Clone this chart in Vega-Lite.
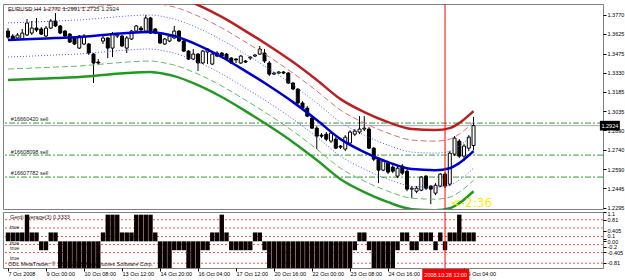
{
  "$schema": "https://vega.github.io/schema/vega-lite/v6.json",
  "background": "#ffffff",
  "padding": {"left": 2, "top": 3, "right": 0, "bottom": 0},
  "bounds": "flush",
  "spacing": 3,
  "config": {
    "view": {"stroke": "#808080", "strokeWidth": 1},
    "axis": {"labelFont": "Liberation Sans", "labelFontSize": 5.5, "labelColor": "#000000", "tickColor": "#000000", "domain": false, "grid": false, "title": null, "tickSize": 3, "labelPadding": 1}
  },
  "datasets": {
    "cd": [
      {"i":0,"o":1.3647,"h":1.3670,"l":1.3586,"c":1.3601},
      {"i":1,"o":1.3609,"h":1.3624,"l":1.3571,"c":1.3586},
      {"i":2,"o":1.3594,"h":1.3632,"l":1.3579,"c":1.3617},
      {"i":3,"o":1.3586,"h":1.3663,"l":1.3579,"c":1.3632},
      {"i":4,"o":1.3617,"h":1.3739,"l":1.3609,"c":1.3709},
      {"i":5,"o":1.3632,"h":1.3724,"l":1.3617,"c":1.3670},
      {"i":6,"o":1.3670,"h":1.3747,"l":1.3640,"c":1.3655},
      {"i":7,"o":1.3663,"h":1.3678,"l":1.3617,"c":1.3624},
      {"i":8,"o":1.3609,"h":1.3686,"l":1.3601,"c":1.3670},
      {"i":9,"o":1.3670,"h":1.3739,"l":1.3663,"c":1.3724},
      {"i":10,"o":1.3724,"h":1.3785,"l":1.3678,"c":1.3686},
      {"i":11,"o":1.3686,"h":1.3693,"l":1.3624,"c":1.3632},
      {"i":12,"o":1.3647,"h":1.3655,"l":1.3601,"c":1.3609},
      {"i":13,"o":1.3624,"h":1.3632,"l":1.3556,"c":1.3563},
      {"i":14,"o":1.3594,"h":1.3601,"l":1.3540,"c":1.3548},
      {"i":15,"o":1.3517,"h":1.3617,"l":1.3510,"c":1.3609},
      {"i":16,"o":1.3548,"h":1.3624,"l":1.3540,"c":1.3609},
      {"i":17,"o":1.3548,"h":1.3556,"l":1.3464,"c":1.3479},
      {"i":18,"o":1.3471,"h":1.3479,"l":1.3250,"c":1.3403},
      {"i":19,"o":1.3410,"h":1.3433,"l":1.3387,"c":1.3403},
      {"i":20,"o":1.3571,"h":1.3617,"l":1.3548,"c":1.3594},
      {"i":21,"o":1.3594,"h":1.3601,"l":1.3441,"c":1.3517},
      {"i":22,"o":1.3517,"h":1.3640,"l":1.3448,"c":1.3624},
      {"i":23,"o":1.3609,"h":1.3624,"l":1.3594,"c":1.3617},
      {"i":24,"o":1.3609,"h":1.3617,"l":1.3525,"c":1.3533},
      {"i":25,"o":1.3517,"h":1.3609,"l":1.3479,"c":1.3594},
      {"i":26,"o":1.3586,"h":1.3655,"l":1.3579,"c":1.3647},
      {"i":27,"o":1.3647,"h":1.3693,"l":1.3640,"c":1.3686},
      {"i":28,"o":1.3670,"h":1.3686,"l":1.3640,"c":1.3655},
      {"i":29,"o":1.3647,"h":1.3770,"l":1.3640,"c":1.3747},
      {"i":30,"o":1.3747,"h":1.3755,"l":1.3624,"c":1.3632},
      {"i":31,"o":1.3663,"h":1.3670,"l":1.3624,"c":1.3632},
      {"i":32,"o":1.3632,"h":1.3640,"l":1.3548,"c":1.3556},
      {"i":33,"o":1.3548,"h":1.3594,"l":1.3540,"c":1.3586},
      {"i":34,"o":1.3571,"h":1.3624,"l":1.3563,"c":1.3609},
      {"i":35,"o":1.3594,"h":1.3686,"l":1.3586,"c":1.3647},
      {"i":36,"o":1.3647,"h":1.3655,"l":1.3563,"c":1.3571},
      {"i":37,"o":1.3571,"h":1.3579,"l":1.3487,"c":1.3494},
      {"i":38,"o":1.3494,"h":1.3502,"l":1.3426,"c":1.3433},
      {"i":39,"o":1.3433,"h":1.3510,"l":1.3426,"c":1.3471},
      {"i":40,"o":1.3471,"h":1.3479,"l":1.3341,"c":1.3403},
      {"i":41,"o":1.3403,"h":1.3502,"l":1.3395,"c":1.3494},
      {"i":42,"o":1.3487,"h":1.3517,"l":1.3395,"c":1.3510},
      {"i":43,"o":1.3395,"h":1.3479,"l":1.3387,"c":1.3471},
      {"i":44,"o":1.3479,"h":1.3494,"l":1.3448,"c":1.3456},
      {"i":45,"o":1.3479,"h":1.3487,"l":1.3441,"c":1.3456},
      {"i":46,"o":1.3471,"h":1.3479,"l":1.3426,"c":1.3433},
      {"i":47,"o":1.3441,"h":1.3448,"l":1.3395,"c":1.3403},
      {"i":48,"o":1.3433,"h":1.3441,"l":1.3403,"c":1.3426},
      {"i":49,"o":1.3403,"h":1.3464,"l":1.3395,"c":1.3456},
      {"i":50,"o":1.3418,"h":1.3426,"l":1.3403,"c":1.3410},
      {"i":51,"o":1.3441,"h":1.3456,"l":1.3426,"c":1.3448},
      {"i":52,"o":1.3456,"h":1.3471,"l":1.3448,"c":1.3464},
      {"i":53,"o":1.3471,"h":1.3533,"l":1.3464,"c":1.3510},
      {"i":54,"o":1.3479,"h":1.3510,"l":1.3403,"c":1.3418},
      {"i":55,"o":1.3403,"h":1.3418,"l":1.3303,"c":1.3318},
      {"i":56,"o":1.3318,"h":1.3334,"l":1.3311,"c":1.3326},
      {"i":57,"o":1.3326,"h":1.3341,"l":1.3318,"c":1.3334},
      {"i":58,"o":1.3334,"h":1.3341,"l":1.3318,"c":1.3326},
      {"i":59,"o":1.3326,"h":1.3334,"l":1.3242,"c":1.3250},
      {"i":60,"o":1.3250,"h":1.3257,"l":1.3196,"c":1.3204},
      {"i":61,"o":1.3204,"h":1.3211,"l":1.3089,"c":1.3097},
      {"i":62,"o":1.3097,"h":1.3112,"l":1.3051,"c":1.3058},
      {"i":63,"o":1.3058,"h":1.3074,"l":1.2989,"c":1.2997},
      {"i":64,"o":1.2982,"h":1.2997,"l":1.2898,"c":1.2905},
      {"i":65,"o":1.2905,"h":1.2920,"l":1.2745,"c":1.2844},
      {"i":66,"o":1.2852,"h":1.2867,"l":1.2829,"c":1.2844},
      {"i":67,"o":1.2859,"h":1.2875,"l":1.2806,"c":1.2821},
      {"i":68,"o":1.2806,"h":1.2882,"l":1.2791,"c":1.2867},
      {"i":69,"o":1.2821,"h":1.2836,"l":1.2745,"c":1.2752},
      {"i":70,"o":1.2768,"h":1.2775,"l":1.2745,"c":1.2760},
      {"i":71,"o":1.2745,"h":1.2852,"l":1.2729,"c":1.2836},
      {"i":72,"o":1.2791,"h":1.2890,"l":1.2783,"c":1.2875},
      {"i":73,"o":1.2859,"h":1.2898,"l":1.2844,"c":1.2882},
      {"i":74,"o":1.2875,"h":1.2997,"l":1.2859,"c":1.2898},
      {"i":75,"o":1.2898,"h":1.2997,"l":1.2882,"c":1.2905},
      {"i":76,"o":1.2898,"h":1.2913,"l":1.2745,"c":1.2752},
      {"i":77,"o":1.2752,"h":1.2760,"l":1.2653,"c":1.2668},
      {"i":78,"o":1.2668,"h":1.2676,"l":1.2485,"c":1.2584},
      {"i":79,"o":1.2584,"h":1.2668,"l":1.2576,"c":1.2653},
      {"i":80,"o":1.2638,"h":1.2653,"l":1.2554,"c":1.2569},
      {"i":81,"o":1.2607,"h":1.2622,"l":1.2561,"c":1.2576},
      {"i":82,"o":1.2538,"h":1.2615,"l":1.2523,"c":1.2599},
      {"i":83,"o":1.2615,"h":1.2630,"l":1.2546,"c":1.2561},
      {"i":84,"o":1.2576,"h":1.2592,"l":1.2423,"c":1.2439},
      {"i":85,"o":1.2439,"h":1.2462,"l":1.2370,"c":1.2446},
      {"i":86,"o":1.2423,"h":1.2462,"l":1.2408,"c":1.2446},
      {"i":87,"o":1.2431,"h":1.2538,"l":1.2423,"c":1.2531},
      {"i":88,"o":1.2538,"h":1.2546,"l":1.2431,"c":1.2446},
      {"i":89,"o":1.2462,"h":1.2469,"l":1.2324,"c":1.2439},
      {"i":90,"o":1.2408,"h":1.2485,"l":1.2393,"c":1.2469},
      {"i":91,"o":1.2462,"h":1.2561,"l":1.2454,"c":1.2554},
      {"i":92,"o":1.2554,"h":1.2569,"l":1.2446,"c":1.2462},
      {"i":93,"o":1.2477,"h":1.2729,"l":1.2462,"c":1.2714},
      {"i":94,"o":1.2706,"h":1.2844,"l":1.2691,"c":1.2829},
      {"i":95,"o":1.2806,"h":1.2821,"l":1.2676,"c":1.2691},
      {"i":96,"o":1.2691,"h":1.2783,"l":1.2653,"c":1.2768},
      {"i":97,"o":1.2752,"h":1.2852,"l":1.2729,"c":1.2836},
      {"i":98,"o":1.2772,"h":1.2991,"l":1.2735,"c":1.2924}
    ],
    "bands": [
      {"i":0,"c":1.3579,"u1":1.3709,"l1":1.3449,"u2":1.3801,"l2":1.3357,"u3":1.3885,"l3":1.3273},
      {"i":5,"c":1.3586,"u1":1.3716,"l1":1.3456,"u2":1.3808,"l2":1.3364,"u3":1.3892,"l3":1.3280},
      {"i":10,"c":1.3594,"u1":1.3724,"l1":1.3464,"u2":1.3816,"l2":1.3372,"u3":1.3900,"l3":1.3288},
      {"i":15,"c":1.3602,"u1":1.3732,"l1":1.3472,"u2":1.3824,"l2":1.3380,"u3":1.3908,"l3":1.3296},
      {"i":20,"c":1.3617,"u1":1.3747,"l1":1.3487,"u2":1.3839,"l2":1.3395,"u3":1.3923,"l3":1.3311},
      {"i":25,"c":1.3632,"u1":1.3762,"l1":1.3502,"u2":1.3854,"l2":1.3410,"u3":1.3938,"l3":1.3326},
      {"i":30,"c":1.3640,"u1":1.3770,"l1":1.3510,"u2":1.3862,"l2":1.3418,"u3":1.3946,"l3":1.3334},
      {"i":33,"c":1.3625,"u1":1.3755,"l1":1.3495,"u2":1.3847,"l2":1.3403,"u3":1.3931,"l3":1.3319},
      {"i":35,"c":1.3609,"u1":1.3739,"l1":1.3479,"u2":1.3831,"l2":1.3387,"u3":1.3915,"l3":1.3303},
      {"i":40,"c":1.3540,"u1":1.3670,"l1":1.3410,"u2":1.3762,"l2":1.3318,"u3":1.3846,"l3":1.3234},
      {"i":45,"c":1.3449,"u1":1.3579,"l1":1.3319,"u2":1.3671,"l2":1.3227,"u3":1.3755,"l3":1.3143},
      {"i":50,"c":1.3341,"u1":1.3471,"l1":1.3211,"u2":1.3563,"l2":1.3119,"u3":1.3647,"l3":1.3035},
      {"i":55,"c":1.3227,"u1":1.3357,"l1":1.3097,"u2":1.3449,"l2":1.3005,"u3":1.3533,"l3":1.2921},
      {"i":60,"c":1.3104,"u1":1.3234,"l1":1.2974,"u2":1.3326,"l2":1.2882,"u3":1.3410,"l3":1.2798},
      {"i":65,"c":1.2967,"u1":1.3097,"l1":1.2837,"u2":1.3189,"l2":1.2745,"u3":1.3273,"l3":1.2661},
      {"i":70,"c":1.2821,"u1":1.2951,"l1":1.2691,"u2":1.3043,"l2":1.2599,"u3":1.3127,"l3":1.2515},
      {"i":75,"c":1.2722,"u1":1.2852,"l1":1.2592,"u2":1.2944,"l2":1.2500,"u3":1.3028,"l3":1.2416},
      {"i":80,"c":1.2645,"u1":1.2775,"l1":1.2515,"u2":1.2867,"l2":1.2423,"u3":1.2951,"l3":1.2339},
      {"i":85,"c":1.2592,"u1":1.2722,"l1":1.2462,"u2":1.2814,"l2":1.2370,"u3":1.2898,"l3":1.2286},
      {"i":90,"c":1.2584,"u1":1.2714,"l1":1.2454,"u2":1.2806,"l2":1.2362,"u3":1.2890,"l3":1.2278},
      {"i":93,"c":1.2599,"u1":1.2729,"l1":1.2469,"u2":1.2821,"l2":1.2377,"u3":1.2905,"l3":1.2293},
      {"i":95,"c":1.2638,"u1":1.2768,"l1":1.2508,"u2":1.2860,"l2":1.2416,"u3":1.2944,"l3":1.2332},
      {"i":98,"c":1.2729,"u1":1.2859,"l1":1.2599,"u2":1.2951,"l2":1.2507,"u3":1.3035,"l3":1.2423}
    ],
    "ind": [
      {"i":0,"v":0.3333},{"i":1,"v":0.3333},{"i":2,"v":0.3333},{"i":3,"v":0.3333},{"i":4,"v":1},{"i":5,"v":0.3333},{"i":6,"v":0.3333},
      {"i":7,"v":-0.3333},{"i":8,"v":-0.3333},{"i":9,"v":0.3333},{"i":10,"v":0.3333},
      {"i":11,"v":-1},{"i":12,"v":-1},{"i":13,"v":-1},{"i":14,"v":-1},{"i":15,"v":-1},{"i":16,"v":-1},{"i":17,"v":-1},{"i":18,"v":-1},{"i":19,"v":-1},
      {"i":20,"v":0.3333},{"i":21,"v":1},{"i":22,"v":1},{"i":23,"v":1},{"i":24,"v":0.3333},{"i":25,"v":0.3333},{"i":26,"v":0.3333},
      {"i":27,"v":1},{"i":28,"v":1},{"i":29,"v":1},{"i":30,"v":1},{"i":31,"v":0.3333},
      {"i":32,"v":-1},{"i":33,"v":-1},{"i":34,"v":-1},{"i":35,"v":-0.3333},{"i":36,"v":-0.3333},{"i":37,"v":-0.3333},
      {"i":38,"v":-1},{"i":39,"v":-1},{"i":40,"v":-1},{"i":41,"v":-0.3333},{"i":42,"v":-0.3333},
      {"i":43,"v":0.3333},{"i":44,"v":0.3333},{"i":45,"v":1},{"i":46,"v":0.3333},
      {"i":47,"v":-0.3333},{"i":48,"v":-0.3333},{"i":49,"v":-0.3333},{"i":50,"v":-0.3333},{"i":51,"v":-0.3333},
      {"i":52,"v":0.3333},{"i":53,"v":0.3333},{"i":54,"v":-0.3333},
      {"i":55,"v":-1},{"i":56,"v":-1},{"i":57,"v":-1},{"i":58,"v":-1},{"i":59,"v":-1},{"i":60,"v":-1},{"i":61,"v":-1},{"i":62,"v":-1},{"i":63,"v":-1},
      {"i":64,"v":-1},{"i":65,"v":-1},{"i":66,"v":-1},{"i":67,"v":-1},{"i":68,"v":-1},{"i":69,"v":-1},{"i":70,"v":-1},{"i":71,"v":-1},{"i":72,"v":-1},
      {"i":73,"v":-0.3333},{"i":74,"v":0.3333},{"i":75,"v":0.3333},{"i":76,"v":-0.3333},
      {"i":77,"v":-1},{"i":78,"v":-1},{"i":79,"v":-1},{"i":80,"v":-1},{"i":81,"v":-1},{"i":82,"v":-0.3333},
      {"i":83,"v":0.3333},{"i":84,"v":0.3333},{"i":85,"v":-0.3333},{"i":86,"v":-0.3333},
      {"i":87,"v":0.3333},{"i":88,"v":0.3333},{"i":89,"v":0.3333},{"i":90,"v":-0.3333},{"i":91,"v":0.3333},{"i":92,"v":-0.3333},
      {"i":93,"v":0.3333},{"i":94,"v":0.3333},{"i":95,"v":1},{"i":96,"v":0.3333},{"i":97,"v":0.3333},{"i":98,"v":0.3333}
    ]
  },
  "vconcat": [
    {
      "width": 600,
      "height": 205,
      "layer": [
        {
          "data": {"values": [{"p": 1.2924}]},
          "mark": {"type": "rule", "color": "#A4ACBA", "strokeWidth": 1},
          "encoding": {
            "y": {"field": "p", "type": "quantitative", "scale": {"domain": [1.2287, 1.3854], "nice": false, "zero": false},
              "axis": {"orient": "right", "values": [1.3770, 1.3625, 1.3475, 1.3330, 1.3185, 1.3035, 1.2890, 1.2740, 1.2590, 1.2445, 1.2295], "format": ".4f", "labelOverlap": false, "labelBound": false}}
          }
        },
        {
          "data": {"values": [{"p": 1.2944}, {"p": 1.2699}, {"p": 1.2531}]},
          "mark": {"type": "rule", "color": "#3A9A3A", "strokeWidth": 1, "strokeDash": [6, 2, 2, 2]},
          "encoding": {"y": {"field": "p", "type": "quantitative",
              "axis": {"orient": "right", "values": [1.3770, 1.3625, 1.3475, 1.3330, 1.3185, 1.3035, 1.2890, 1.2740, 1.2590, 1.2445, 1.2295], "format": ".4f", "labelOverlap": false, "labelBound": false}}}
        },
        {
          "data": {"values": [{"i": 0.6, "p": 1.2974, "t": "#16660420 sell"}, {"i": 0.6, "p": 1.2722, "t": "#16608098 sell"}, {"i": 0.6, "p": 1.2561, "t": "#16607782 sell"}]},
          "mark": {"type": "text", "align": "left", "baseline": "middle", "font": "Liberation Sans", "fontSize": 5.5, "color": "#222222"},
          "encoding": {
            "x": {"field": "i", "type": "quantitative", "scale": {"domain": [0, 124.2], "nice": false, "zero": false}, "axis": null},
            "y": {"field": "p", "type": "quantitative",
              "axis": {"orient": "right", "values": [1.3770, 1.3625, 1.3475, 1.3330, 1.3185, 1.3035, 1.2890, 1.2740, 1.2590, 1.2445, 1.2295], "format": ".4f", "labelOverlap": false, "labelBound": false}},
            "text": {"field": "t"}
          }
        },
        {
          "data": {"name": "cd"},
          "mark": {"type": "rule", "color": "#000000", "strokeWidth": 1, "clip": true},
          "encoding": {
            "x": {"field": "i", "type": "quantitative", "axis": null},
            "y": {"field": "l", "type": "quantitative",
              "axis": {"orient": "right", "values": [1.3770, 1.3625, 1.3475, 1.3330, 1.3185, 1.3035, 1.2890, 1.2740, 1.2590, 1.2445, 1.2295], "format": ".4f", "labelOverlap": false, "labelBound": false}},
            "y2": {"field": "h"}
          }
        },
        {
          "data": {"name": "cd"},
          "mark": {"type": "bar", "size": 3, "stroke": "#000000", "strokeWidth": 1, "clip": true},
          "encoding": {
            "x": {"field": "i", "type": "quantitative", "axis": null},
            "y": {"field": "o", "type": "quantitative",
              "axis": {"orient": "right", "values": [1.3770, 1.3625, 1.3475, 1.3330, 1.3185, 1.3035, 1.2890, 1.2740, 1.2590, 1.2445, 1.2295], "format": ".4f", "labelOverlap": false, "labelBound": false}},
            "y2": {"field": "c"},
            "fill": {"condition": {"test": "datum.c >= datum.o", "value": "#ffffff"}, "value": "#000000"}
          }
        },
        {
          "data": {"name": "bands"},
          "mark": {"type": "line", "color": "#5555FF", "strokeWidth": 1, "strokeDash": [1, 2], "interpolate": "monotone", "clip": true},
          "encoding": {"x": {"field": "i", "type": "quantitative", "axis": null}, "y": {"field": "u1", "type": "quantitative",
              "axis": {"orient": "right", "values": [1.3770, 1.3625, 1.3475, 1.3330, 1.3185, 1.3035, 1.2890, 1.2740, 1.2590, 1.2445, 1.2295], "format": ".4f", "labelOverlap": false, "labelBound": false}}}
        },
        {
          "data": {"name": "bands"},
          "mark": {"type": "line", "color": "#5555FF", "strokeWidth": 1, "strokeDash": [1, 2], "interpolate": "monotone", "clip": true},
          "encoding": {"x": {"field": "i", "type": "quantitative", "axis": null}, "y": {"field": "l1", "type": "quantitative",
              "axis": {"orient": "right", "values": [1.3770, 1.3625, 1.3475, 1.3330, 1.3185, 1.3035, 1.2890, 1.2740, 1.2590, 1.2445, 1.2295], "format": ".4f", "labelOverlap": false, "labelBound": false}}}
        },
        {
          "data": {"name": "bands"},
          "mark": {"type": "line", "color": "#E07070", "strokeWidth": 1, "strokeDash": [6, 3], "interpolate": "monotone", "clip": true},
          "encoding": {"x": {"field": "i", "type": "quantitative", "axis": null}, "y": {"field": "u2", "type": "quantitative",
              "axis": {"orient": "right", "values": [1.3770, 1.3625, 1.3475, 1.3330, 1.3185, 1.3035, 1.2890, 1.2740, 1.2590, 1.2445, 1.2295], "format": ".4f", "labelOverlap": false, "labelBound": false}}}
        },
        {
          "data": {"name": "bands"},
          "mark": {"type": "line", "color": "#66BB66", "strokeWidth": 1, "strokeDash": [6, 3], "interpolate": "monotone", "clip": true},
          "encoding": {"x": {"field": "i", "type": "quantitative", "axis": null}, "y": {"field": "l2", "type": "quantitative",
              "axis": {"orient": "right", "values": [1.3770, 1.3625, 1.3475, 1.3330, 1.3185, 1.3035, 1.2890, 1.2740, 1.2590, 1.2445, 1.2295], "format": ".4f", "labelOverlap": false, "labelBound": false}}}
        },
        {
          "data": {"name": "bands"},
          "mark": {"type": "line", "color": "#BB2020", "strokeWidth": 2.5, "interpolate": "monotone", "clip": true},
          "encoding": {"x": {"field": "i", "type": "quantitative", "axis": null}, "y": {"field": "u3", "type": "quantitative",
              "axis": {"orient": "right", "values": [1.3770, 1.3625, 1.3475, 1.3330, 1.3185, 1.3035, 1.2890, 1.2740, 1.2590, 1.2445, 1.2295], "format": ".4f", "labelOverlap": false, "labelBound": false}}}
        },
        {
          "data": {"name": "bands"},
          "mark": {"type": "line", "color": "#229A22", "strokeWidth": 2.5, "interpolate": "monotone", "clip": true},
          "encoding": {"x": {"field": "i", "type": "quantitative", "axis": null}, "y": {"field": "l3", "type": "quantitative",
              "axis": {"orient": "right", "values": [1.3770, 1.3625, 1.3475, 1.3330, 1.3185, 1.3035, 1.2890, 1.2740, 1.2590, 1.2445, 1.2295], "format": ".4f", "labelOverlap": false, "labelBound": false}}}
        },
        {
          "data": {"name": "bands"},
          "mark": {"type": "line", "color": "#0000CC", "strokeWidth": 2.5, "interpolate": "monotone", "clip": true},
          "encoding": {"x": {"field": "i", "type": "quantitative", "axis": null}, "y": {"field": "c", "type": "quantitative",
              "axis": {"orient": "right", "values": [1.3770, 1.3625, 1.3475, 1.3330, 1.3185, 1.3035, 1.2890, 1.2740, 1.2590, 1.2445, 1.2295], "format": ".4f", "labelOverlap": false, "labelBound": false}}}
        },
        {
          "data": {"values": [{"i": 92}]},
          "mark": {"type": "rule", "color": "#FF0000", "strokeWidth": 1},
          "encoding": {"x": {"field": "i", "type": "quantitative", "axis": null}}
        },
        {
          "data": {"values": [{"i": 0, "p": 1.3818, "t": "EURUSD,H4  1.2772 1.2991 1.2735 1.2924"}]},
          "mark": {"type": "text", "align": "left", "baseline": "middle", "font": "Liberation Sans", "fontSize": 5.8, "color": "#222222"},
          "encoding": {"x": {"field": "i", "type": "quantitative", "axis": null}, "y": {"field": "p", "type": "quantitative",
              "axis": {"orient": "right", "values": [1.3770, 1.3625, 1.3475, 1.3330, 1.3185, 1.3035, 1.2890, 1.2740, 1.2590, 1.2445, 1.2295], "format": ".4f", "labelOverlap": false, "labelBound": false}}, "text": {"field": "t"}}
        },
        {
          "data": {"values": [{"i": 93.2, "p": 1.2332, "t": "<-2:36"}]},
          "mark": {"type": "text", "align": "left", "baseline": "middle", "font": "DejaVu Sans", "fontSize": 12, "color": "#F2F000"},
          "encoding": {"x": {"field": "i", "type": "quantitative", "axis": null}, "y": {"field": "p", "type": "quantitative",
              "axis": {"orient": "right", "values": [1.3770, 1.3625, 1.3475, 1.3330, 1.3185, 1.3035, 1.2890, 1.2740, 1.2590, 1.2445, 1.2295], "format": ".4f", "labelOverlap": false, "labelBound": false}}, "text": {"field": "t"}}
        },
        {
          "data": {"values": [{"a": 124.6, "b": 128.8, "p1": 1.2961, "p2": 1.2887}]},
          "mark": {"type": "rect", "color": "#000000"},
          "encoding": {"x": {"field": "a", "type": "quantitative", "axis": null}, "x2": {"field": "b"}, "y": {"field": "p1", "type": "quantitative",
              "axis": {"orient": "right", "values": [1.3770, 1.3625, 1.3475, 1.3330, 1.3185, 1.3035, 1.2890, 1.2740, 1.2590, 1.2445, 1.2295], "format": ".4f", "labelOverlap": false, "labelBound": false}}, "y2": {"field": "p2"}}
        },
        {
          "data": {"values": [{"i": 126.7, "p": 1.2924, "t": "1.2924"}]},
          "mark": {"type": "text", "align": "center", "baseline": "middle", "font": "Liberation Sans", "fontSize": 5.5, "color": "#ffffff"},
          "encoding": {"x": {"field": "i", "type": "quantitative", "axis": null}, "y": {"field": "p", "type": "quantitative",
              "axis": {"orient": "right", "values": [1.3770, 1.3625, 1.3475, 1.3330, 1.3185, 1.3035, 1.2890, 1.2740, 1.2590, 1.2445, 1.2295], "format": ".4f", "labelOverlap": false, "labelBound": false}}, "text": {"field": "t"}}
        }
      ]
    },
    {
      "width": 600,
      "height": 56,
      "layer": [
        {
          "data": {"values": [{"v": 0.81}, {"v": 0.5}, {"v": 0.18}, {"v": -0.12}, {"v": -0.42}, {"v": -0.82}]},
          "mark": {"type": "rule", "color": "#FF5050", "strokeWidth": 1, "strokeDash": [2, 2]},
          "encoding": {
            "y": {"field": "v", "type": "quantitative", "scale": {"domain": [-1.0, 1.1], "nice": false, "zero": false},
              "axis": {"orient": "right", "values": [1.1, 0.81, 0.405, 0.1, 0, -0.2, -0.405, -0.81, -1.1], "labelExpr": "datum.value === 0 ? '0.00' : '' + datum.value", "labelOverlap": false, "labelBound": false,
                "labelOffset": {"condition": [{"test": "datum.value == 1.1", "value": 1}, {"test": "datum.value == 0.1", "value": -3}, {"test": "datum.value == -1.1", "value": -5}], "value": 0}}}
          }
        },
        {
          "data": {"values": [
            {"i": 0.4, "v": 0.92, "t": "Gerdi average(3) 0.3333"},
            {"i": 0.4, "v": 0.52, "t": "true"},
            {"i": 0.4, "v": -0.05, "t": "true"},
            {"i": 0.4, "v": -0.24, "t": "true"},
            {"i": 0.4, "v": -0.62, "t": "true"},
            {"i": 0, "v": -0.85, "t": "ODL MetaTrader, © 2001-2008 MetaQuotes Software Corp."}
          ]},
          "mark": {"type": "text", "align": "left", "baseline": "middle", "font": "Liberation Sans", "fontSize": 5.5, "color": "#222222"},
          "encoding": {
            "x": {"field": "i", "type": "quantitative", "scale": {"domain": [0, 124.2], "nice": false, "zero": false},
              "axis": {"orient": "bottom", "values": [0, 8, 16, 24, 32, 40, 48, 56, 64, 72, 80, 96], "labelExpr": "['7 Oct 2008','9 Oct 00:00','10 Oct 08:00','13 Oct 12:00','14 Oct 20:00','16 Oct 04:00','17 Oct 12:00','20 Oct 16:00','22 Oct 00:00','23 Oct 08:00','24 Oct 16:00','27 Oct 20:00','29 Oct 04:00'][round(datum.value / 8)]", "labelAlign": "left", "labelFlush": false, "labelOverlap": false, "labelBound": false, "labelPadding": 0}},
            "y": {"field": "v", "type": "quantitative",
              "axis": {"orient": "right", "values": [1.1, 0.81, 0.405, 0.1, 0, -0.2, -0.405, -0.81, -1.1], "labelExpr": "datum.value === 0 ? '0.00' : '' + datum.value", "labelOverlap": false, "labelBound": false,
                "labelOffset": {"condition": [{"test": "datum.value == 1.1", "value": 1}, {"test": "datum.value == 0.1", "value": -3}, {"test": "datum.value == -1.1", "value": -5}], "value": 0}}},
            "text": {"field": "t"}
          }
        },
        {
          "data": {"name": "ind"},
          "mark": {"type": "bar", "size": 4.4, "color": "#0a0000", "clip": true},
          "encoding": {
            "x": {"field": "i", "type": "quantitative",
              "axis": {"orient": "bottom", "values": [0, 8, 16, 24, 32, 40, 48, 56, 64, 72, 80, 96], "labelExpr": "['7 Oct 2008','9 Oct 00:00','10 Oct 08:00','13 Oct 12:00','14 Oct 20:00','16 Oct 04:00','17 Oct 12:00','20 Oct 16:00','22 Oct 00:00','23 Oct 08:00','24 Oct 16:00','27 Oct 20:00','29 Oct 04:00'][round(datum.value / 8)]", "labelAlign": "left", "labelFlush": false, "labelOverlap": false, "labelBound": false, "labelPadding": 0}},
            "y": {"field": "v", "type": "quantitative",
              "axis": {"orient": "right", "values": [1.1, 0.81, 0.405, 0.1, 0, -0.2, -0.405, -0.81, -1.1], "labelExpr": "datum.value === 0 ? '0.00' : '' + datum.value", "labelOverlap": false, "labelBound": false,
                "labelOffset": {"condition": [{"test": "datum.value == 1.1", "value": 1}, {"test": "datum.value == 0.1", "value": -3}, {"test": "datum.value == -1.1", "value": -5}], "value": 0}}},
            "y2": {"datum": 0}
          }
        },
        {
          "data": {"values": [{"i": 92}]},
          "mark": {"type": "rule", "color": "#FF0000", "strokeWidth": 1},
          "encoding": {"x": {"field": "i", "type": "quantitative",
              "axis": {"orient": "bottom", "values": [0, 8, 16, 24, 32, 40, 48, 56, 64, 72, 80, 96], "labelExpr": "['7 Oct 2008','9 Oct 00:00','10 Oct 08:00','13 Oct 12:00','14 Oct 20:00','16 Oct 04:00','17 Oct 12:00','20 Oct 16:00','22 Oct 00:00','23 Oct 08:00','24 Oct 16:00','27 Oct 20:00','29 Oct 04:00'][round(datum.value / 8)]", "labelAlign": "left", "labelFlush": false, "labelOverlap": false, "labelBound": false, "labelPadding": 0}}}
        },
        {
          "data": {"values": [{"a": 87.2, "b": 97.1, "v1": -1.04, "v2": -1.45}]},
          "mark": {"type": "rect", "color": "#FF0000"},
          "encoding": {"x": {"field": "a", "type": "quantitative",
              "axis": {"orient": "bottom", "values": [0, 8, 16, 24, 32, 40, 48, 56, 64, 72, 80, 96], "labelExpr": "['7 Oct 2008','9 Oct 00:00','10 Oct 08:00','13 Oct 12:00','14 Oct 20:00','16 Oct 04:00','17 Oct 12:00','20 Oct 16:00','22 Oct 00:00','23 Oct 08:00','24 Oct 16:00','27 Oct 20:00','29 Oct 04:00'][round(datum.value / 8)]", "labelAlign": "left", "labelFlush": false, "labelOverlap": false, "labelBound": false, "labelPadding": 0}},
            "x2": {"field": "b"},
            "y": {"field": "v1", "type": "quantitative",
              "axis": {"orient": "right", "values": [1.1, 0.81, 0.405, 0.1, 0, -0.2, -0.405, -0.81, -1.1], "labelExpr": "datum.value === 0 ? '0.00' : '' + datum.value", "labelOverlap": false, "labelBound": false,
                "labelOffset": {"condition": [{"test": "datum.value == 1.1", "value": 1}, {"test": "datum.value == 0.1", "value": -3}, {"test": "datum.value == -1.1", "value": -5}], "value": 0}}},
            "y2": {"field": "v2"}}
        },
        {
          "data": {"values": [{"i": 92.15, "v": -1.245, "t": "2008.10.28 12:00"}]},
          "mark": {"type": "text", "align": "center", "baseline": "middle", "font": "Liberation Sans", "fontSize": 5.5, "color": "#ffffff"},
          "encoding": {"x": {"field": "i", "type": "quantitative",
              "axis": {"orient": "bottom", "values": [0, 8, 16, 24, 32, 40, 48, 56, 64, 72, 80, 96], "labelExpr": "['7 Oct 2008','9 Oct 00:00','10 Oct 08:00','13 Oct 12:00','14 Oct 20:00','16 Oct 04:00','17 Oct 12:00','20 Oct 16:00','22 Oct 00:00','23 Oct 08:00','24 Oct 16:00','27 Oct 20:00','29 Oct 04:00'][round(datum.value / 8)]", "labelAlign": "left", "labelFlush": false, "labelOverlap": false, "labelBound": false, "labelPadding": 0}},
            "y": {"field": "v", "type": "quantitative",
              "axis": {"orient": "right", "values": [1.1, 0.81, 0.405, 0.1, 0, -0.2, -0.405, -0.81, -1.1], "labelExpr": "datum.value === 0 ? '0.00' : '' + datum.value", "labelOverlap": false, "labelBound": false,
                "labelOffset": {"condition": [{"test": "datum.value == 1.1", "value": 1}, {"test": "datum.value == 0.1", "value": -3}, {"test": "datum.value == -1.1", "value": -5}], "value": 0}}},
            "text": {"field": "t"}}
        }
      ]
    }
  ]
}
